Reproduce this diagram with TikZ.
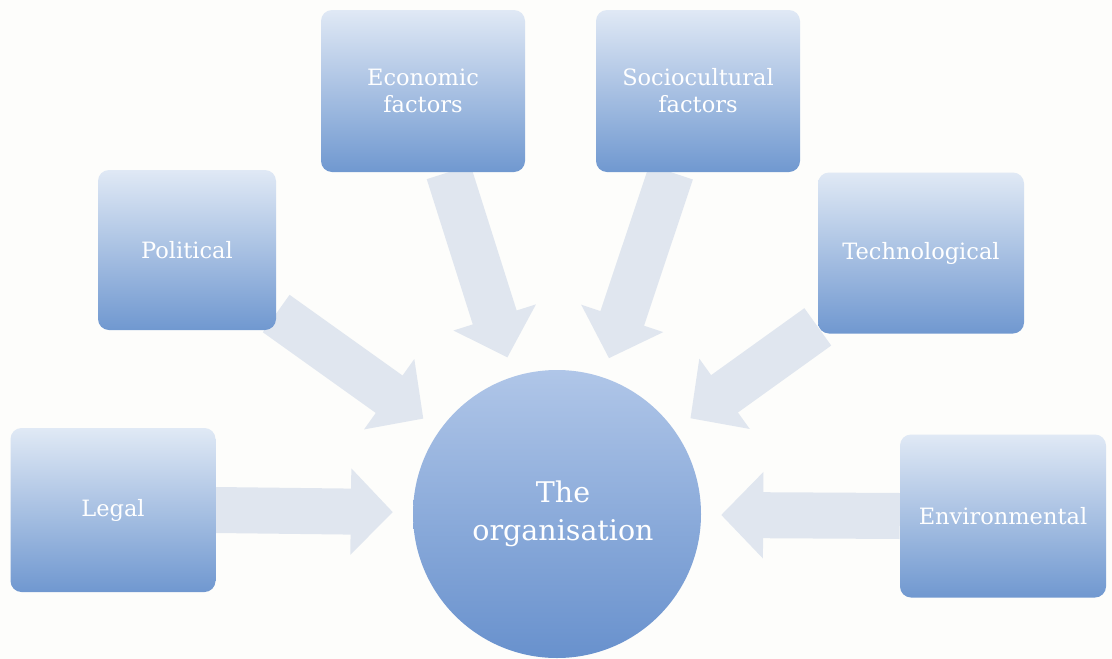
\documentclass[tikz,border=0pt]{standalone}
\usepackage{fontspec}
\setmainfont{DejaVu Serif}
\usetikzlibrary{arrows.meta,backgrounds}
\definecolor{boxtop}{RGB}{224,233,245}
\definecolor{boxbot}{RGB}{112,152,208}
\definecolor{circtop}{RGB}{176,198,232}
\definecolor{circbot}{RGB}{104,145,205}
\definecolor{arrowc}{RGB}{224,230,239}
\definecolor{paper}{RGB}{253,253,251}
\begin{document}
\begin{tikzpicture}[x=1pt,y=-1pt,
  factor/.style={rounded corners=11pt, top color=boxtop, bottom color=boxbot,
    text=white, font=\fontsize{22.5}{27}\selectfont, align=center,
    minimum width=204pt, minimum height=162pt, inner sep=0pt},
  orgcircle/.style={circle, top color=circtop, bottom color=circbot,
    text=white, font=\fontsize{28.5}{38}\selectfont, align=center,
    minimum size=288pt, inner sep=0pt},
  blockarrow/.style={draw=arrowc, line width=46pt,
    -{Triangle[width=84pt,length=42pt]}, shorten >=20pt}]
\useasboundingbox (0,0) rectangle (1112,659);
\node[factor] (eco) at (423,91) {Economic\\factors};
\node[factor] (soc) at (698,91) {Sociocultural\\factors};
\node[factor, minimum width=178pt, minimum height=160pt] (pol) at (187,250) {Political};
\node[factor, minimum width=206pt, minimum height=161pt] (tec) at (921,253) {Technological};
\node[factor, minimum width=205pt, minimum height=164pt] (leg) at (113,510) {Legal};
\node[factor, minimum width=206pt, minimum height=163pt] (env) at (1003,516) {Environmental};
\node[orgcircle] (org) at (557,514) {\hspace*{12pt}The\\\hspace*{12pt}organisation};
\begin{scope}[on background layer]
  \fill[paper] (0,0) rectangle (1112,659);
  \draw[blockarrow] (pol) -- (org);
  \draw[blockarrow] (eco) -- (org);
  \draw[blockarrow] (soc) -- (org);
  \draw[blockarrow] (tec) -- (org);
  \draw[blockarrow] (leg.east) -- (org);
  \draw[blockarrow] (env.west) -- (org);
\end{scope}
\end{tikzpicture}
\end{document}
